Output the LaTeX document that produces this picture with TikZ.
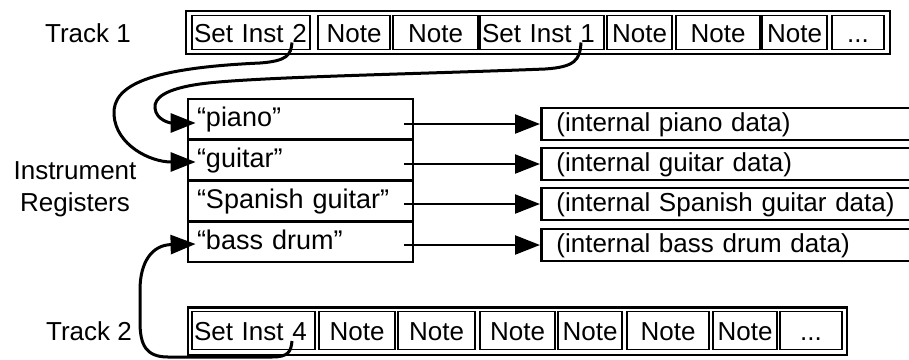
\documentclass[tikz,border=0pt]{standalone}
\usepackage{fontspec}
\setmainfont{Liberation Sans}
\usetikzlibrary{arrows.meta}
\begin{document}
\begin{tikzpicture}[x=1bp,y=-1bp,
  lbl/.style={font=\fontsize{26bp}{31.5bp}\selectfont, inner sep=0pt, align=center},
  tracklbl/.style={font=\fontsize{26bp}{30bp}\selectfont, inner sep=0pt, text height=20bp, text depth=0bp},
  trackbox/.style={draw, line width=2.8bp, inner sep=0pt},
  cell/.style={draw, line width=1.7bp, inner sep=0pt, font=\fontsize{26bp}{30bp}\selectfont, text height=20bp, text depth=0bp},
  setcell/.style={cell, align=left, inner xsep=2bp},
  reg/.style={draw, line width=2.8bp, inner xsep=9bp, inner ysep=0pt, minimum height=40.75bp, text width=207bp, align=left, font=\fontsize{27bp}{30bp}\selectfont, text height=18bp, text depth=3bp},
  datab/.style={draw, line width=2.8bp, anchor=west, inner xsep=15bp, inner ysep=0pt, minimum height=32bp, text width=355bp, align=left, font=\fontsize{26bp}{30bp}\selectfont, text height=18bp, text depth=3bp},
  conn/.style={line width=2.4bp, -{Triangle[length=25bp,width=19bp]}},
  curvy/.style={line width=3bp, -{Triangle[length=25bp,width=19bp]}}
]
\useasboundingbox (0,0) rectangle (909,359);

% labels
\node[tracklbl] (l1) at (88,32.5) {Track 1};
\node[tracklbl] (l2) at (89,330.5) {Track 2};
\node[lbl] (l3) at (75,189) {Instrument\\Registers};

% Track 1
\node[trackbox, minimum width=704bp, minimum height=43bp] (t1) at (538,32.5) {};
\node[setcell, text width=114bp, minimum height=34bp] (a1) at (251,32.5) {\mbox{Set Inst 2}};
\node[cell, minimum width=72bp, minimum height=34bp] (a2) at (354,32.5) {Note};
\node[cell, minimum width=85bp, minimum height=34bp] (a3) at (435.5,32.5) {Note};
\node[setcell, text width=120bp, minimum height=34bp] (a4) at (542,32.5) {\mbox{Set Inst 1}};
\node[cell, minimum width=65bp, minimum height=34bp] (a5) at (639.5,32.5) {Note};
\node[cell, minimum width=84bp, minimum height=34bp] (a6) at (718,32.5) {Note};
\node[cell, minimum width=65bp, minimum height=34bp] (a7) at (794.5,32.5) {Note};
\node[cell, minimum width=52bp, minimum height=34bp] (a8) at (858,32.5) {...};

% Track 2
\node[trackbox, minimum width=659bp, minimum height=47.5bp] (t2) at (517.5,331.25) {};
\node[setcell, text width=119bp, minimum height=38bp] (b1) at (253.5,330.5) {\mbox{Set Inst 4}};
\node[cell, minimum width=76bp, minimum height=38bp] (b2) at (357,330.5) {Note};
\node[cell, minimum width=77bp, minimum height=38bp] (b3) at (436.5,330.5) {Note};
\node[cell, minimum width=75bp, minimum height=38bp] (b4) at (517.5,330.5) {Note};
\node[cell, minimum width=64bp, minimum height=38bp] (b5) at (590,330.5) {Note};
\node[cell, minimum width=82bp, minimum height=38bp] (b6) at (668,330.5) {Note};
\node[cell, minimum width=64bp, minimum height=38bp] (b7) at (745,330.5) {Note};
\node[cell, minimum width=62bp, minimum height=38bp] (b8) at (811,330.5) {...};

% registers
\node[reg] (r1) at (300.5,119.4) {“piano”};
\node[reg] (r2) at (300.5,160.1) {“guitar”};
\node[reg] (r3) at (300.5,200.9) {“Spanish guitar”};
\node[reg] (r4) at (300.5,241.6) {“bass drum”};

% data
\node[datab] (d1) at (540,124) {(internal piano data)};
\node[datab] (d2) at (540,164) {(internal guitar data)};
\node[datab] (d3) at (540,204) {(internal Spanish guitar data)};
\node[datab] (d4) at (540,245) {(internal bass drum data)};

% arrows registers -> data
\draw[conn] (r1.east |- d1.west) ++(-10,0) -- (d1.west);
\draw[conn] (r2.east |- d2.west) ++(-10,0) -- (d2.west);
\draw[conn] (r3.east |- d3.west) ++(-10,0) -- (d3.west);
\draw[conn] (r4.east |- d4.west) ++(-10,0) -- (d4.west);

% curve ends
\coordinate (s2) at (292,42.5);
\coordinate (s1) at (581,42.5);
\coordinate (s4) at (292,341);
\coordinate (p1) at ([xshift=9bp,yshift=-3.6bp]r1.west);
\coordinate (p2) at ([xshift=9bp,yshift=-1.9bp]r2.west);
\coordinate (p4) at ([xshift=9bp,yshift=-2.4bp]r4.west);

% Set Inst 2 -> guitar
\draw[curvy] (s2) .. controls (291,55) and (287,61) .. (260,63)
  .. controls (150,68) and (112,85) .. (114,115)
  .. controls (116,145) and (150,162) .. (p2);
% Set Inst 1 -> piano
\draw[curvy] (s1) .. controls (580,60) and (575,67) .. (545,69)
  .. controls (420,74) and (250,77) .. (200,84)
  .. controls (165,89) and (154,98) .. (155,108)
  .. controls (156,120) and (170,123) .. (p1);
% Set Inst 4 -> bass drum
\draw[curvy] (s4) .. controls (291,352) and (288,357) .. (272,357)
  -- (168,357) .. controls (146,357) and (140,345) .. (140,322)
  -- (140,290) .. controls (140,262) and (152,245) .. (p4);
\end{tikzpicture}
\end{document}
